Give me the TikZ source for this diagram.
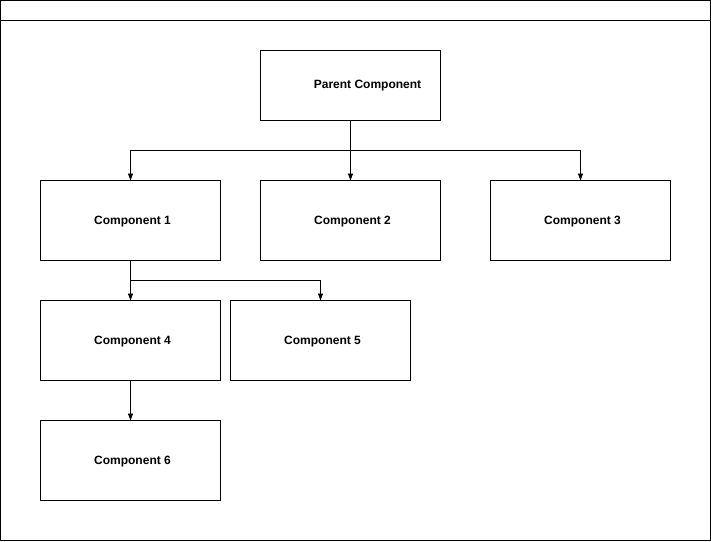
\documentclass[tikz,border=0pt]{standalone}
\usepackage{fontspec}
\setmainfont{Liberation Sans}
\usetikzlibrary{arrows.meta}
\begin{document}
\begin{tikzpicture}[x=1pt,y=-1pt,
  box/.style={draw,line width=0.9pt,outer sep=0pt,minimum width=180pt,minimum height=80pt,inner sep=0pt,anchor=north west},
  lbl/.style={font=\fontsize{12}{14}\selectfont\bfseries,inner sep=0pt},
  conn/.style={line width=0.9pt},
  arr/.style={line width=0.9pt,-{Triangle[length=7pt,width=5pt]}}]
\useasboundingbox (0,0) rectangle (711,541);
\draw[line width=0.9pt] (0.5,0.5) rectangle (710.5,540.5);
\draw[line width=0.9pt] (0.5,20.5) -- (710.5,20.5);
\node[box,minimum height=70pt] (p) at (260.5,50.5) {};
\node[box] (c1) at (40.5,180.5) {};
\node[box] (c2) at (260.5,180.5) {};
\node[box] (c3) at (490.5,180.5) {};
\node[box] (c4) at (40.5,300.5) {};
\node[box] (c5) at (230.5,300.5) {};
\node[box] (c6) at (40.5,420.5) {};
\node[lbl] (pt) at (367.5,85.5) {Parent Component};
\node[lbl] (t1) at ([xshift=2pt,yshift=-1pt]c1.center) {Component 1};
\node[lbl] (t2) at ([xshift=2pt,yshift=-1pt]c2.center) {Component 2};
\node[lbl] (t3) at ([xshift=2pt,yshift=-1pt]c3.center) {Component 3};
\node[lbl] (t4) at ([xshift=2pt,yshift=-1pt]c4.center) {Component 4};
\node[lbl] (t5) at ([xshift=2pt,yshift=-1pt]c5.center) {Component 5};
\node[lbl] (t6) at ([xshift=2pt,yshift=-1pt]c6.center) {Component 6};
\coordinate (j1) at (350.5,150.5);
\coordinate (j2) at (130.5,280.5);
\draw[conn] (p.south) -- (j1);
\draw[arr] (j1) -| (c1.north);
\draw[arr] (j1) -- (c2.north);
\draw[arr] (j1) -| (c3.north);
\draw[conn] (c1.south) -- (j2);
\draw[arr] (j2) -- (c4.north);
\draw[arr] (j2) -| (c5.north);
\draw[arr] (c4.south) -- (c6.north);
\end{tikzpicture}
\end{document}
